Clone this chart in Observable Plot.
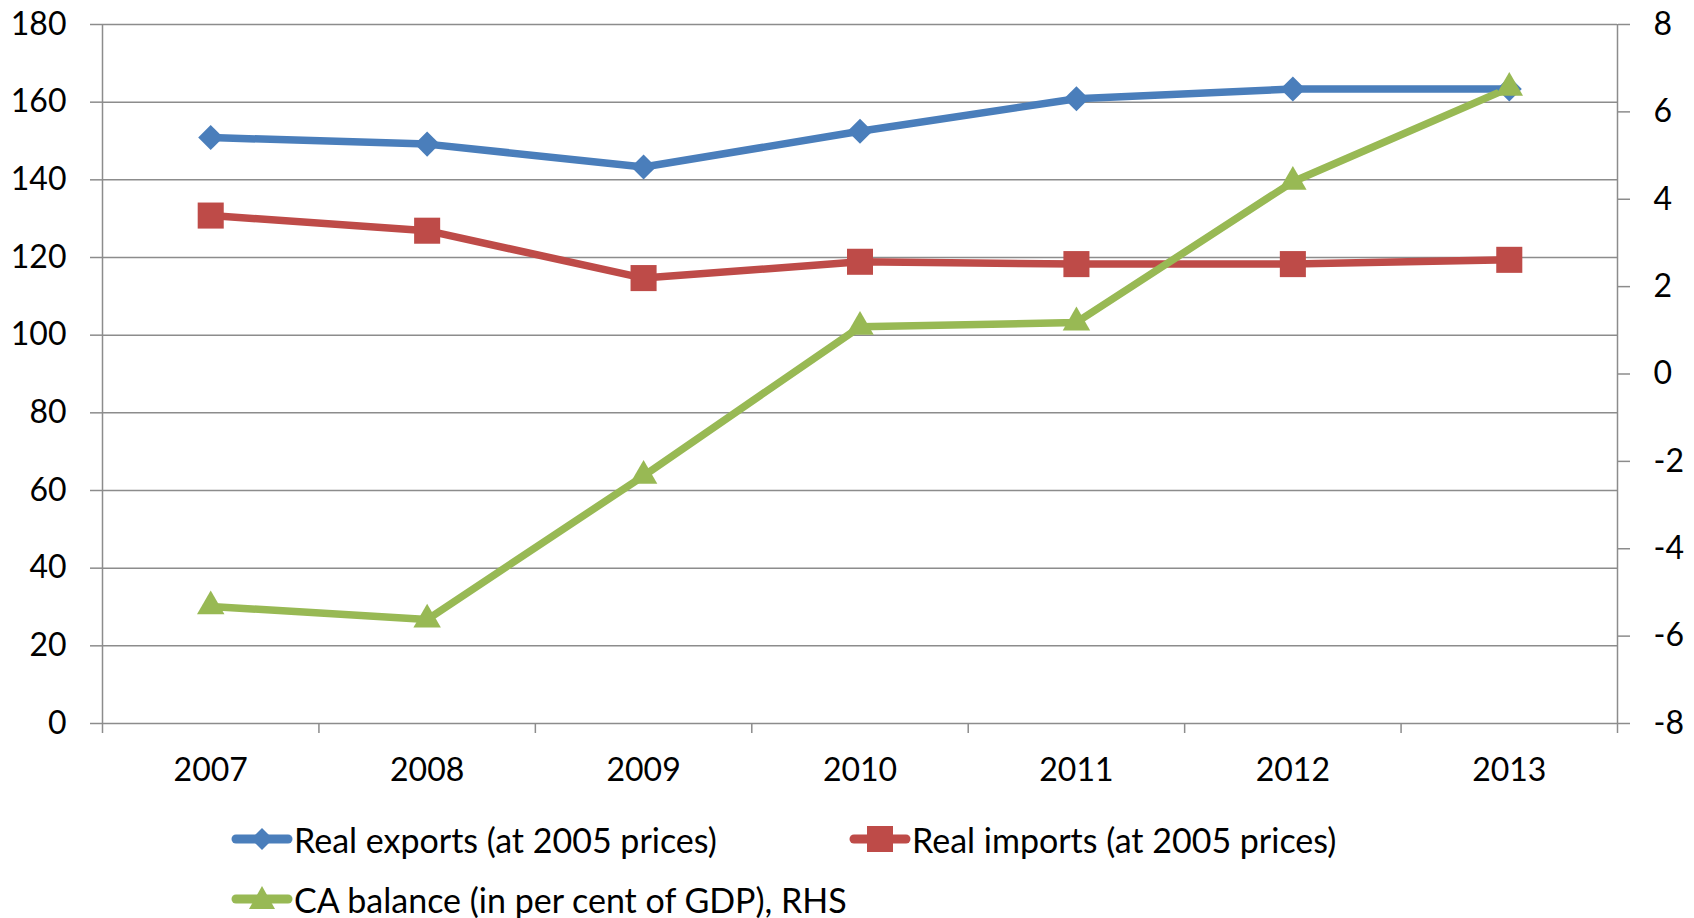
<!DOCTYPE html>
<html>
<head>
<meta charset="utf-8">
<script src="https://cdn.jsdelivr.net/npm/d3@7"></script>
<script src="https://cdn.jsdelivr.net/npm/@observablehq/plot@0.6"></script>
<style>
  html, body { margin: 0; padding: 0; background: #fff; }
  #wrap { position: relative; width: 1694px; height: 918px; font-family: Lato, "Open Sans", sans-serif; }
  .leg { position: absolute; display: flex; align-items: center; font-size: 34px; color: #000; white-space: nowrap; height: 40px; }
  .leg svg { display: block; margin-right: 1px; }
</style>
</head>
<body>
<div id="wrap"><div id="chart"></div></div>
<script>
const years = [2007, 2008, 2009, 2010, 2011, 2012, 2013];
const realExports = [150.9, 149.2, 143.3, 152.5, 160.9, 163.4, 163.4];
const realImports = [130.8, 126.9, 114.7, 118.9, 118.3, 118.3, 119.4];
const caBalance = [-5.32, -5.62, -2.33, 1.08, 1.18, 4.40, 6.55];
const leftTicks = [0, 20, 40, 60, 80, 100, 120, 140, 160, 180];
const rightTicks = [-8, -6, -4, -2, 0, 2, 4, 6, 8];
const seriesNames = ["Real exports (at 2005 prices)", "Real imports (at 2005 prices)", "CA balance (in per cent of GDP), RHS"];
const colors = ["#4A7EBB", "#BE4B48", "#98B954"];

// right axis (-8..8) mapped onto left axis (0..180)
const toLeft = v => (v + 8) * 180 / 16;
const fromLeft = v => Math.round(v * 16 / 180 - 8);

const data = years.map((y, i) => ({
  year: y, exp: realExports[i], imp: realImports[i], ca: toLeft(caBalance[i])
}));
const boundaries = d3.range(years.length + 1).map(i => years[0] - 0.5 + i);
const grid = "#8c8c8c";

const chart = Plot.plot({
  width: 1694,
  height: 800,
  marginLeft: 102,
  marginRight: 77,
  marginTop: 24,
  marginBottom: 77,
  style: { fontFamily: "Lato, 'Open Sans', sans-serif", fontSize: "32px", color: "#000", background: "#fff" },
  x: { domain: [boundaries[0], boundaries[boundaries.length - 1]] },
  y: { domain: [0, 180] },
  marks: [
    Plot.ruleY(leftTicks, { stroke: grid, strokeWidth: 1.5 }),
    Plot.ruleX([boundaries[0], boundaries[boundaries.length - 1]], { stroke: grid, strokeWidth: 1.5 }),
    Plot.axisY(leftTicks, { anchor: "left", tickSize: 12, tickPadding: 24, stroke: grid, strokeWidth: 1.5, label: null, tickFormat: d => String(d) }),
    Plot.axisY(rightTicks.map(toLeft), { anchor: "right", tickSize: 12, tickPadding: 24, stroke: grid, strokeWidth: 1.5, label: null, tickFormat: d => String(fromLeft(d)) }),
    Plot.axisX(boundaries, { anchor: "bottom", tickSize: 10, stroke: grid, strokeWidth: 1.5, tickFormat: () => "", label: null }),
    Plot.axisX(years, { anchor: "bottom", tickSize: 0, tickPadding: 35, tickFormat: d => String(d), label: null }),
    Plot.line(data, { x: "year", y: "exp", stroke: colors[0], strokeWidth: 7.5 }),
    Plot.line(data, { x: "year", y: "imp", stroke: colors[1], strokeWidth: 7.5 }),
    Plot.line(data, { x: "year", y: "ca", stroke: colors[2], strokeWidth: 7.5 }),
    Plot.dot(data, { x: "year", y: "exp", symbol: "diamond2", r: 11.3, fill: colors[0], stroke: "none" }),
    Plot.dot(data, { x: "year", y: "imp", symbol: "square", r: 14.7, fill: colors[1], stroke: "none" }),
    Plot.dot(data, { x: "year", y: "ca", symbol: "triangle", r: 10.2, fill: colors[2], stroke: "none" })
  ]
});
document.getElementById("chart").appendChild(chart);

// legend
const wrap = document.getElementById("wrap");
const icons = [
  '<polygon points="31,5 42,16 31,27 20,16" />',
  '<rect x="18" y="3" width="26" height="26" />',
  '<polygon points="31,3 44,26 18,26" />'
];
const legPos = [[231, 819], [849, 819], [231, 879]];
seriesNames.forEach((name, i) => {
  const div = document.createElement("div");
  div.className = "leg";
  div.style.left = legPos[i][0] + "px";
  div.style.top = legPos[i][1] + "px";
  div.innerHTML = `<svg width="62" height="32" viewBox="0 0 62 32"><line x1="5" y1="16" x2="57" y2="16" stroke="${colors[i]}" stroke-width="9" stroke-linecap="round"/><g fill="${colors[i]}">${icons[i]}</g></svg><span>${name}</span>`;
  wrap.appendChild(div);
});
</script>
</body>
</html>
